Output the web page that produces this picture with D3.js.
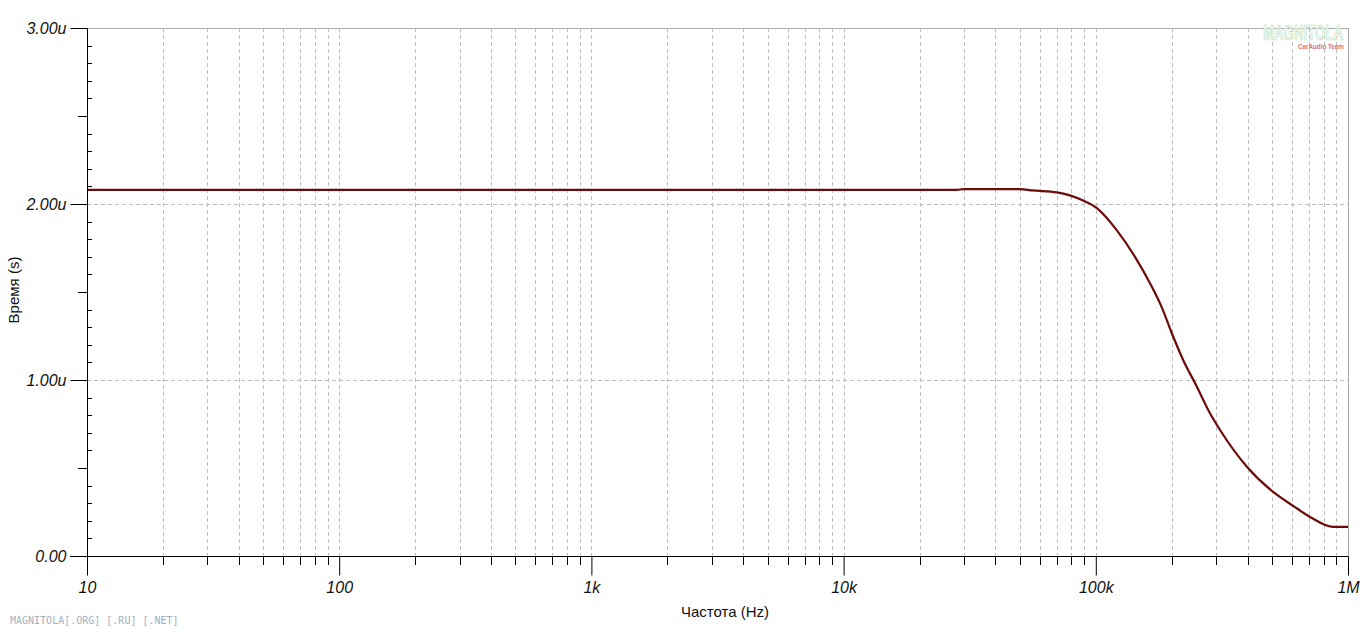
<!DOCTYPE html>
<html><head><meta charset="utf-8">
<script src="https://cdn.jsdelivr.net/npm/d3@7"></script>
<style>
html,body{margin:0;padding:0;background:#fff;}
svg{display:block;}
</style></head>
<body>
<script>
// Data: frequency (Hz) and group delay (µs)
const freqs = [10, 28000, 30000, 50000, 56000, 70000, 89000, 101000, 121000, 143000, 164000, 183000, 200000, 222000, 252000, 279000, 311000, 398000, 505000, 606000, 707000, 873000, 1000000];
const delays = [2.08, 2.08, 2.085, 2.085, 2.077, 2.066, 2.02, 1.977, 1.852, 1.70, 1.55, 1.41, 1.267, 1.114, 0.96, 0.83, 0.716, 0.506, 0.364, 0.285, 0.222, 0.165, 0.165];
const xTickValues = [10, 100, 1000, 10000, 100000, 1000000];
const xTickLabels = ["10", "100", "1k", "10k", "100k", "1M"];
const yTickValues = [0, 1, 2, 3];
const yTickLabels = ["0.00", "1.00u", "2.00u", "3.00u"];

const W = 1364, H = 630;
const m = {left: 87, right: 1348, top: 28, bottom: 556};
const FONT = "Arial, 'Liberation Sans', sans-serif";

const svg = d3.select("body").append("svg").attr("width", W).attr("height", H)
  .style("font-family", FONT);

const x = d3.scaleLog().domain([10, 1e6]).range([m.left, m.right]);
const y = d3.scaleLinear().domain([0, 3]).range([m.bottom, m.top]);

const gridColor = "#bdbdbd";

// minor x values
const xMinor = [];
for (let d = 10; d < 1e6; d *= 10) for (let k = 2; k <= 9; k++) xMinor.push(d * k);

// vertical grid
const gridX = xMinor.concat([100, 1000, 10000, 100000]);
svg.append("g").selectAll("line").data(gridX).join("line")
  .attr("x1", d => Math.round(x(d)) + 0.5).attr("x2", d => Math.round(x(d)) + 0.5)
  .attr("y1", m.top).attr("y2", m.bottom)
  .attr("stroke", gridColor).attr("stroke-width", 1).attr("stroke-dasharray", "4,3");

// horizontal grid
svg.append("g").selectAll("line").data([1, 2]).join("line")
  .attr("x1", m.left).attr("x2", m.right)
  .attr("y1", d => Math.round(y(d)) + 0.5).attr("y2", d => Math.round(y(d)) + 0.5)
  .attr("stroke", gridColor).attr("stroke-width", 1).attr("stroke-dasharray", "4,3");

// top & right border
svg.append("line").attr("x1", m.left).attr("x2", m.right + 0.5).attr("y1", m.top + 0.5).attr("y2", m.top + 0.5)
  .attr("stroke", "#aaaaaa");
svg.append("line").attr("x1", m.right + 0.5).attr("x2", m.right + 0.5).attr("y1", m.top).attr("y2", m.bottom)
  .attr("stroke", "#aaaaaa");

// Curve
const line = d3.line().x((d, i) => x(freqs[i])).y((d, i) => y(delays[i])).curve(d3.curveMonotoneX);
svg.append("path").datum(freqs).attr("d", line)
  .attr("fill", "none").attr("stroke", "#6e0a0a").attr("stroke-width", 2.2);

// X axis
const xAxis = d3.axisBottom(x).tickValues(xTickValues).tickFormat((d, i) => xTickLabels[i]).tickSize(19).tickSizeOuter(0);
const gx = svg.append("g").attr("transform", `translate(0,${m.bottom + 0.5})`).call(xAxis);
gx.attr("font-family", null);
gx.select(".domain").attr("stroke", "#000").attr("d", `M${m.left - 17},0H${m.right + 0.5}`);
gx.selectAll(".tick line").attr("stroke", "#000");
gx.selectAll(".tick text").attr("font-size", 16).attr("font-style", "italic").attr("fill", "#111")
  .attr("dy", "0.95em").attr("y", 21);
// x minor ticks
svg.append("g").selectAll("line").data(xMinor).join("line")
  .attr("x1", d => Math.round(x(d)) + 0.5).attr("x2", d => Math.round(x(d)) + 0.5)
  .attr("y1", m.bottom).attr("y2", m.bottom + 9).attr("stroke", "#000");

// Y axis
const yAxis = d3.axisLeft(y).tickValues(yTickValues).tickFormat((d, i) => yTickLabels[i]).tickSize(17).tickSizeOuter(0);
const gy = svg.append("g").attr("transform", `translate(${m.left + 0.5},0)`).call(yAxis);
gy.attr("font-family", null);
gy.select(".domain").attr("stroke", "#000").attr("d", `M0,${m.top}V${m.bottom + 19}`);
gy.selectAll(".tick line").attr("stroke", "#000");
gy.selectAll(".tick text").attr("font-size", 16).attr("font-style", "italic").attr("fill", "#111").attr("x", -21);
// y minor ticks
const yMinor = d3.range(1, 30).map(i => i / 10).filter(v => Math.abs(v - Math.round(v)) > 1e-6);
svg.append("g").selectAll("line").data(yMinor).join("line")
  .attr("y1", d => Math.round(y(d)) + 0.5).attr("y2", d => Math.round(y(d)) + 0.5)
  .attr("x1", d => Math.abs(d % 1 - 0.5) < 1e-6 ? m.left - 9 : m.left)
  .attr("x2", d => Math.abs(d % 1 - 0.5) < 1e-6 ? m.left : m.left + 5)
  .attr("stroke", "#000");

// Axis titles
svg.append("text").attr("x", 725).attr("y", 617).attr("text-anchor", "middle")
  .attr("font-size", 15).attr("fill", "#111").text("Частота (Hz)");
svg.append("text").attr("transform", "translate(19,290) rotate(-90)").attr("text-anchor", "middle")
  .attr("font-size", 15).attr("fill", "#111").text("Время (s)");

// Watermarks
svg.append("text").attr("x", 10).attr("y", 624).attr("font-size", 10)
  .style("font-family", "'DejaVu Sans Mono', 'Liberation Mono', monospace").attr("fill", "#9fb0bf")
  .text("MAGNITOLA[.ORG] [.RU] [.NET]");
const logo = svg.append("text").attr("font-size", 22)
  .attr("font-weight", "bold").attr("fill", "#eef8ef").attr("stroke", "#b5dfbb").attr("stroke-width", 0.7)
  .text("MAGNITOLA");
const lw = logo.node().getComputedTextLength();
logo.attr("transform", `translate(1263,40) scale(${80 / lw},1)`);
const team = svg.append("text").attr("font-size", 7).attr("font-weight", "bold").attr("fill", "#e07070")
  .text("CarAudio Team");
const tw = team.node().getComputedTextLength();
team.attr("transform", `translate(1298,49) scale(${46 / tw},1)`);
</script>
</body></html>
